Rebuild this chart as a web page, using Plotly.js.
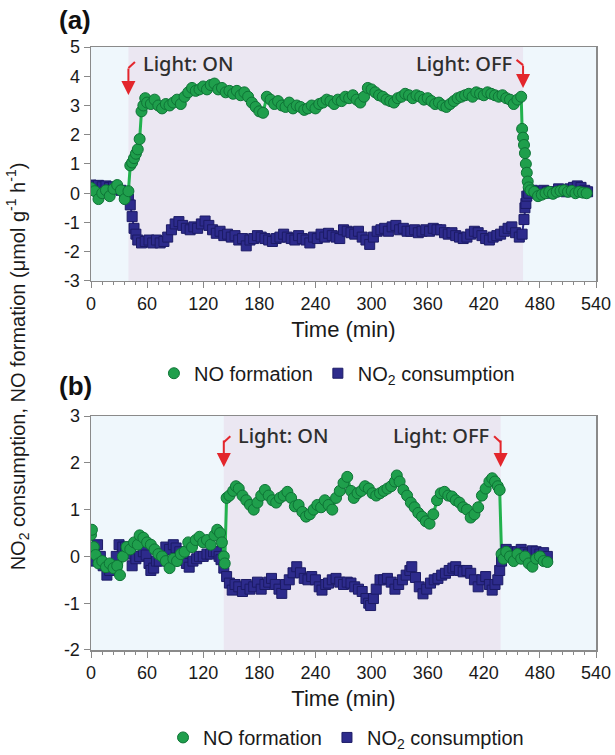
<!DOCTYPE html>
<html>
<head>
<meta charset="utf-8">
<script src="https://cdn.plot.ly/plotly-3.0.1.min.js"></script>
<style>html,body{margin:0;padding:0;background:#fff;}#chart{width:615px;height:755px;}</style>
</head>
<body>
<div id="chart"></div>
<script>
// ---------- Panel (a) data ----------
const tNoA = [0,4,8,12,16,20,24,28,32,36,40,42,44,46,48,50,52,54,56,58,60,64,68,72,76,80,84,88,92,96,100,104,108,112,116,120,124,128,132,136,140,144,148,152,156,160,164,168,172,176,180,184,188,192,196,200,204,208,212,216,220,224,228,232,236,240,244,248,252,256,260,264,268,272,276,280,284,288,292,296,300,304,308,312,316,320,324,328,332,336,340,344,348,352,356,360,364,368,372,376,380,384,388,392,396,400,404,408,412,416,420,424,428,432,436,440,444,448,452,456,460,461,462,463,464,465,466,467,468,470,474,478,482,486,490,494,498,502,506,510,514,518,522,526,530];
const noA = [0.18,0.07,-0.2,0.0,0.1,-0.1,0.15,0.28,0.1,-0.2,0.07,0.95,1.05,1.2,1.35,1.5,1.85,2.8,3.0,3.25,3.1,3.05,3.2,3.0,2.9,3.05,3.0,3.1,3.2,3.05,3.3,3.45,3.6,3.5,3.55,3.65,3.55,3.7,3.75,3.55,3.6,3.45,3.5,3.4,3.5,3.35,3.45,3.3,3.1,2.95,2.8,2.75,3.3,3.2,3.05,3.15,3.0,2.95,3.1,2.9,3.0,2.95,2.85,2.9,3.0,2.9,3.05,3.1,3.2,3.15,3.05,3.2,3.15,3.3,3.25,3.35,3.2,3.1,3.3,3.6,3.55,3.45,3.35,3.3,3.2,3.15,3.1,3.25,3.3,3.4,3.35,3.25,3.35,3.3,3.2,3.25,3.15,3.05,3.1,3.0,2.95,3.05,3.15,3.25,3.3,3.35,3.4,3.3,3.45,3.4,3.35,3.45,3.4,3.35,3.3,3.35,3.25,3.2,3.05,3.2,3.3,2.2,1.9,1.65,1.37,1.0,0.7,0.4,0.2,0.1,0.05,-0.1,-0.05,0.0,0.05,-0.02,0.05,0.08,0.1,0.05,0.08,0.0,0.05,0.02,0.0];

const tNo2A = [0,4,8,12,16,20,24,28,32,36,40,42,44,46,48,50,54,58,62,66,70,74,78,82,86,90,94,98,102,106,110,114,118,122,126,130,134,138,142,146,150,154,158,162,166,170,174,178,182,186,190,194,198,202,206,210,214,218,222,226,230,234,238,242,246,250,254,258,262,266,270,274,278,282,286,290,294,298,302,306,310,314,318,322,326,330,334,338,342,346,350,354,358,362,366,370,374,378,382,386,390,394,398,402,406,410,414,418,422,426,430,434,438,442,446,450,454,458,461,463,464,465,466,468,472,476,480,484,488,492,496,500,504,508,512,516,520,524,528,531];
const no2A = [0.28,0.25,0.27,0.22,0.25,0.2,0.22,0.15,0.1,0.0,-0.2,-0.4,-0.8,-1.2,-1.4,-1.6,-1.7,-1.65,-1.6,-1.7,-1.6,-1.7,-1.65,-1.5,-1.25,-1.05,-0.97,-1.1,-1.2,-1.25,-1.15,-1.2,-1.05,-0.95,-1.1,-1.25,-1.37,-1.3,-1.45,-1.4,-1.5,-1.45,-1.6,-1.55,-1.8,-1.6,-1.55,-1.45,-1.5,-1.55,-1.6,-1.65,-1.55,-1.5,-1.4,-1.5,-1.55,-1.6,-1.45,-1.55,-1.6,-1.7,-1.5,-1.55,-1.4,-1.5,-1.37,-1.45,-1.5,-1.55,-1.25,-1.3,-1.35,-1.4,-1.3,-1.5,-1.6,-1.75,-1.5,-1.3,-1.25,-1.2,-1.3,-1.15,-1.1,-1.25,-1.2,-1.3,-1.3,-1.25,-1.35,-1.3,-1.25,-1.3,-1.2,-1.25,-1.25,-1.35,-1.4,-1.35,-1.45,-1.5,-1.55,-1.5,-1.4,-1.3,-1.35,-1.45,-1.55,-1.6,-1.5,-1.45,-1.4,-1.3,-1.2,-1.15,-1.35,-1.5,-1.4,-0.9,-0.5,-0.35,-0.1,0.0,0.1,0.05,0.0,0.1,0.05,0.0,0.05,0.15,0.1,0.05,0.15,0.2,0.25,0.2,0.1,0.05];

// ---------- Panel (b) data ----------
const tNoB = [0,1,3,5,8,12,16,20,24,28,31,34,38,42,46,50,52,56,60,64,68,72,76,80,84,88,92,96,100,104,108,112,116,120,124,128,132,135,138,140,142,143,145,148,152,155,158,162,166,170,174,178,182,186,190,194,198,202,206,210,214,218,222,226,230,234,238,242,246,250,254,258,262,266,270,274,278,281,285,289,293,297,301,305,309,313,317,321,325,327,330,334,338,342,346,350,354,358,362,366,370,374,378,382,386,390,394,398,402,406,410,414,418,422,426,429,432,435,437,439,441,444,448,452,456,460,464,468,472,476,480,484,488];
const noB = [0.46,0.57,0.2,0.03,-0.15,-0.1,-0.23,-0.15,-0.25,-0.2,-0.4,0.0,0.2,0.15,0.3,0.25,0.45,0.4,0.3,0.25,0.15,0.05,0.0,-0.1,-0.25,-0.05,-0.1,0.05,0.1,0.3,0.2,0.35,0.42,0.3,0.35,0.25,0.45,0.57,0.5,0.3,0.0,-0.15,1.25,1.3,1.4,1.5,1.45,1.3,1.2,1.1,1.0,1.15,1.3,1.42,1.3,1.2,1.15,1.25,1.3,1.38,1.25,1.07,1.1,0.95,0.85,0.9,1.0,1.1,1.05,1.2,1.1,1.0,1.25,1.4,1.57,1.7,1.4,1.25,1.35,1.4,1.5,1.45,1.35,1.3,1.35,1.4,1.45,1.5,1.6,1.73,1.6,1.42,1.3,1.15,1.05,0.93,0.85,0.75,0.7,0.9,1.2,1.35,1.38,1.3,1.28,1.2,1.15,1.05,1.0,0.83,0.9,1.05,1.3,1.45,1.6,1.67,1.6,1.5,1.42,0.05,-0.05,0.1,0.0,-0.1,0.05,-0.05,0.0,-0.15,-0.22,-0.05,0.0,-0.1,-0.12];

const tNo2B = [0,3,7,10,13,17,20,23,27,30,34,37,41,44,48,52,56,59,62,64,67,70,73,77,80,84,88,91,95,98,102,105,109,113,116,120,124,128,131,134,137,139,142,145,148,151,154,158,162,166,170,174,178,182,186,190,193,197,201,204,208,212,216,220,224,228,232,236,240,244,247,251,254,258,262,266,270,274,278,282,286,290,294,297,299,302,305,309,313,317,321,325,329,333,337,341,343,347,351,355,359,363,367,371,375,379,383,387,390,394,398,402,406,410,414,418,422,426,429,432,435,437,439,441,444,448,452,456,460,464,468,472,476,480,484,488];
const no2B = [-0.03,-0.1,0.25,0.0,-0.2,-0.4,-0.3,-0.2,0.0,0.25,0.2,0.2,0.05,-0.2,-0.05,0.0,0.1,0.03,-0.15,-0.3,-0.25,-0.1,-0.1,0.05,0.2,0.15,0.25,0.18,0.1,-0.08,-0.15,-0.23,-0.1,-0.05,0.0,0.0,0.05,0.05,0.1,0.1,0.0,-0.07,-0.25,-0.43,-0.57,-0.72,-0.6,-0.65,-0.75,-0.6,-0.7,-0.65,-0.55,-0.7,-0.6,-0.55,-0.47,-0.6,-0.7,-0.79,-0.6,-0.5,-0.35,-0.22,-0.35,-0.47,-0.5,-0.43,-0.5,-0.65,-0.72,-0.6,-0.57,-0.5,-0.47,-0.55,-0.6,-0.55,-0.57,-0.65,-0.7,-0.75,-0.9,-1.0,-1.05,-0.9,-0.7,-0.5,-0.5,-0.47,-0.55,-0.7,-0.6,-0.5,-0.4,-0.3,-0.22,-0.45,-0.65,-0.8,-0.7,-0.57,-0.5,-0.47,-0.4,-0.36,-0.3,-0.25,-0.22,-0.3,-0.33,-0.3,-0.36,-0.5,-0.65,-0.5,-0.43,-0.6,-0.72,-0.6,-0.5,-0.3,-0.1,0.05,0.15,0.1,0.05,0.1,0.15,0.08,0.05,0.12,0.1,0.05,0.08,0.0];

// Light on / off times [panel a, panel b]
const lightOn = [40, 142];
const lightOff = [462, 438];
// arrow tip heights (data units) [panel a, panel b]
const arrowTipOn = [3.36, 1.91];
const arrowTipOff = [3.6, 1.91];

// ticks
const xTicks = [0,60,120,180,240,300,360,420,480,540];
const yTicksA = [-3,-2,-1,0,1,2,3,4,5];
const yTicksB = [-2,-1,0,1,2,3];
const seriesNames = ['NO formation', 'NO<sub>2</sub> consumption'];

const GREEN = '#1f9f4c', GREEN_EDGE = '#0e7436', GREEN_LINE = '#22b24e';
const NAVY = '#2d2b8c', NAVY_EDGE = '#1c1b66';
const FONT = 'Liberation Sans, Arial, sans-serif';

function traces(tNo, no, tNo2, no2, xa, ya, legend) {
  return [
    {x: tNo2, y: no2, xaxis: xa, yaxis: ya, mode: 'lines', line: {color: NAVY, width: 2}, showlegend: false, hoverinfo: 'skip'},
    {x: tNo, y: no, xaxis: xa, yaxis: ya, mode: 'lines', line: {color: GREEN_LINE, width: 3}, showlegend: false, hoverinfo: 'skip'},
    {x: tNo2, y: no2, xaxis: xa, yaxis: ya, mode: 'markers', name: seriesNames[1], legend: legend, legendrank: 2,
     marker: {symbol: 'square', size: 10, color: NAVY, line: {color: NAVY_EDGE, width: 1}}},
    {x: tNo, y: no, xaxis: xa, yaxis: ya, mode: 'markers', name: seriesNames[0], legend: legend, legendrank: 1,
     marker: {symbol: 'circle', size: 11, color: GREEN, line: {color: GREEN_EDGE, width: 1}}}
  ];
}

const data = [].concat(
  traces(tNoA, noA, tNo2A, no2A, 'x', 'y', 'legend'),
  traces(tNoB, noB, tNo2B, no2B, 'x2', 'y2', 'legend2')
);

function xaxisDef(anchor) {
  return {
    anchor: anchor, domain: [0, 1], range: [0, 540], tickvals: xTicks, ticktext: xTicks.map(String),
    ticks: 'outside', ticklen: 6, tickwidth: 1, tickcolor: '#888',
    minor: {dtick: 12, ticks: 'outside', ticklen: 3, tickcolor: '#888', showgrid: false},
    showline: true, linecolor: '#8a8a8a', linewidth: 1.5, mirror: true,
    showgrid: false, zeroline: false,
    tickfont: {family: FONT, size: 18, color: '#1a1a1a'},
    title: {text: 'Time (min)', font: {family: FONT, size: 22, color: '#1a1a1a'}, standoff: 8}
  };
}
function yaxisDef(anchor, dom, range, ticks) {
  return {
    anchor: anchor, domain: dom, range: range, tickvals: ticks, ticktext: ticks.map(String),
    ticks: 'outside', ticklen: 6, tickwidth: 1, tickcolor: '#888',
    showline: true, linecolor: '#8a8a8a', linewidth: 1.5, mirror: true,
    showgrid: false, zeroline: false,
    tickfont: {family: FONT, size: 18, color: '#1a1a1a'}
  };
}

const LAV = '#ebe7f2';
const shapes = [];
const annotations = [];
const panels = [{xr: 'x', yr: 'y', i: 0}, {xr: 'x2', yr: 'y2', i: 1}];
const kinkDx = 7;
const kinkTop = [[4.28, 4.49], [2.44, 2.57]];
const offTop = [[4.38, 4.56], [2.44, 2.57]];
panels.forEach(p => {
  shapes.push({type: 'rect', xref: p.xr, yref: p.yr + ' domain', x0: lightOn[p.i], x1: lightOff[p.i], y0: 0, y1: 1,
    fillcolor: LAV, line: {width: 0}, layer: 'below'});
  shapes.push({type: 'line', xref: p.xr, yref: p.yr, x0: lightOn[p.i], y0: kinkTop[p.i][0], x1: lightOn[p.i] + kinkDx, y1: kinkTop[p.i][1],
    line: {color: '#e3262c', width: 2}});
  shapes.push({type: 'line', xref: p.xr, yref: p.yr, x0: lightOff[p.i], y0: offTop[p.i][0], x1: lightOff[p.i] - kinkDx, y1: offTop[p.i][1],
    line: {color: '#e3262c', width: 2}});
  annotations.push({xref: p.xr, yref: p.yr, x: lightOn[p.i], y: arrowTipOn[p.i], text: '', showarrow: true,
    ax: 0, ay: -28, arrowhead: 2, arrowsize: 1.4, arrowwidth: 2, arrowcolor: '#e3262c'});
  annotations.push({xref: p.xr, yref: p.yr, x: lightOff[p.i], y: arrowTipOff[p.i], text: '', showarrow: true,
    ax: 0, ay: p.i === 0 ? -24 : -28, arrowhead: 2, arrowsize: 1.4, arrowwidth: 2, arrowcolor: '#e3262c'});
});
const lightFont = {family: 'Noto Sans, Open Sans, sans-serif', size: 20, color: '#2e2e2e', weight: 500};
annotations.push({xref: 'x', yref: 'y', x: lightOn[0] + 13, y: 4.45, text: 'Light: ON', showarrow: false, xanchor: 'left', yanchor: 'middle', font: lightFont});
annotations.push({xref: 'x', yref: 'y', x: lightOff[0] - 10, y: 4.45, text: 'Light: OFF', showarrow: false, xanchor: 'right', yanchor: 'middle', font: lightFont});
annotations.push({xref: 'x2', yref: 'y2', x: lightOn[1] + 13, y: 2.58, text: 'Light: ON', showarrow: false, xanchor: 'left', yanchor: 'middle', font: lightFont});
annotations.push({xref: 'x2', yref: 'y2', x: lightOff[1] - 10, y: 2.58, text: 'Light: OFF', showarrow: false, xanchor: 'right', yanchor: 'middle', font: lightFont});
annotations.push({xref: 'paper', yref: 'paper', x: -0.068, y: 1.045, text: '<b>(a)</b>', showarrow: false, xanchor: 'left', yanchor: 'middle', font: {family: FONT, size: 26, color: '#111'}});
annotations.push({xref: 'paper', yref: 'paper', x: -0.068, y: 0.437, text: '<b>(b)</b>', showarrow: false, xanchor: 'left', yanchor: 'middle', font: {family: FONT, size: 26, color: '#111'}});
annotations.push({xref: 'paper', yref: 'paper', x: -0.145, y: 0.47, text: 'NO<sub>2</sub> consumption, NO formation (μmol g<sup>-1</sup> h<sup>-1</sup>)',
  textangle: -90, showarrow: false, xanchor: 'center', yanchor: 'middle', font: {family: FONT, size: 20, color: '#1a1a1a'}});

const legendBase = {orientation: 'h', xanchor: 'center', yanchor: 'middle', font: {family: FONT, size: 20, color: '#1a1a1a'}, bgcolor: 'rgba(0,0,0,0)', itemwidth: 30, traceorder: 'normal'};

const layout = {
  width: 615, height: 755,
  margin: {l: 91, r: 19, t: 47, b: 105, autoexpand: false},
  paper_bgcolor: '#ffffff', plot_bgcolor: '#eff7fc',
  font: {family: FONT},
  xaxis: xaxisDef('y'),
  yaxis: yaxisDef('x', [0.612, 1], [-3, 5], yTicksA),
  xaxis2: xaxisDef('y2'),
  yaxis2: yaxisDef('x2', [0, 0.388], [-2, 3], yTicksB),
  legend: Object.assign({}, legendBase, {x: 0.487, y: 0.459}),
  legend2: Object.assign({}, legendBase, {x: 0.505, y: -0.145}),
  shapes: shapes,
  annotations: annotations,
  showlegend: true
};

Plotly.newPlot('chart', data, layout, {displayModeBar: false, staticPlot: true});
</script>
</body>
</html>
